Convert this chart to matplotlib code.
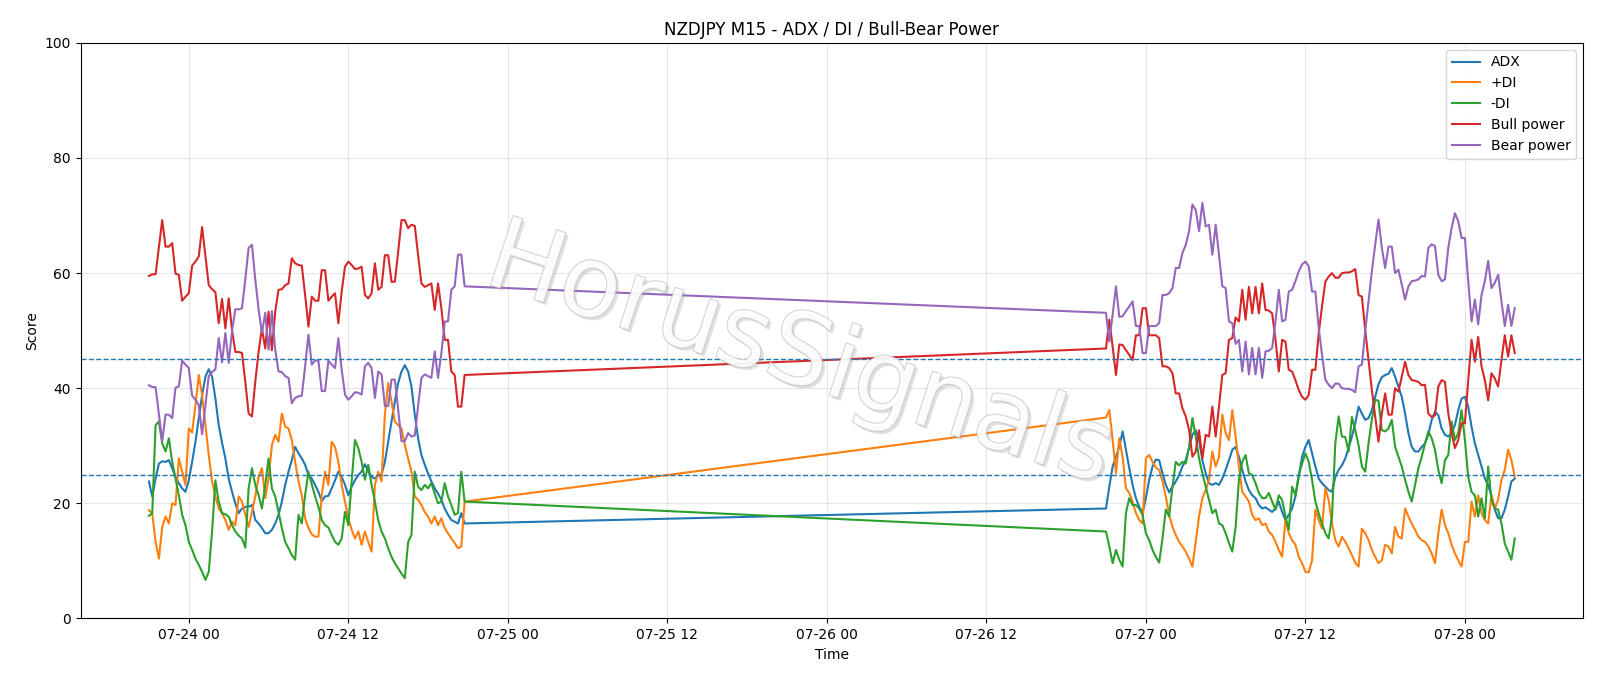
import pandas as pd
import matplotlib
matplotlib.use("Agg")
import matplotlib.pyplot as plt
import matplotlib.dates as mdates
import matplotlib.patheffects as pe

# two trading sessions (weekend gap between them), 15 minute bars
seg1_start = "2026-07-23 21:00"
seg2_start = "2026-07-26 21:00"

adx_1 = [23.8, 21.2, 24.3, 26.9, 27.3, 27.2, 27.5, 26.1, 24.6, 23.5, 22.6, 22.0, 24.0, 27.2, 30.7, 34.8,
         38.8, 42.0, 43.3, 42.0, 38.2, 33.6, 30.5, 27.8, 24.3, 22.0, 20.0, 18.3, 19.1, 19.4, 19.4, 19.7,
         17.1, 16.5, 15.7, 14.8, 14.8, 15.4, 16.5, 18.0, 20.3, 23.2, 25.5, 27.5, 29.8, 28.7, 27.8, 26.7,
         24.9, 24.3, 23.2, 22.0, 20.4, 21.2, 21.3, 22.6, 24.0, 25.5, 24.6, 23.2, 21.4, 22.9, 24.0, 24.9,
         25.5, 26.8, 25.5, 24.6, 24.3, 24.9, 25.0, 27.2, 30.7, 34.2, 37.7, 40.9, 42.9, 44.0, 42.9, 40.3,
         35.4, 31.3, 28.4, 26.7, 25.2, 23.8, 22.6, 21.7, 20.6, 19.1, 18.0, 17.1, 16.8, 16.5, 18.3, 16.5]
pdi_1 = [18.8, 18.3, 13.3, 10.4, 15.9, 17.7, 16.5, 20.0, 19.7, 27.8, 25.5, 23.2, 33.0, 32.3, 37.1, 42.3,
         38.8, 33.6, 28.4, 23.8, 21.2, 19.1, 18.3, 17.1, 15.4, 16.8, 16.2, 21.2, 20.3, 18.0, 15.9, 18.5,
         21.2, 24.6, 26.1, 20.9, 24.3, 30.1, 31.9, 30.7, 35.6, 33.3, 33.0, 31.0, 27.2, 23.8, 21.4, 17.4,
         15.7, 14.6, 14.2, 14.2, 21.4, 25.5, 23.2, 30.7, 29.8, 27.2, 23.2, 20.3, 17.4, 15.4, 13.9, 15.1,
         12.8, 15.1, 13.3, 11.6, 23.2, 25.5, 23.8, 35.4, 40.9, 37.7, 34.2, 33.6, 33.0, 30.1, 27.8, 25.5,
         21.2, 20.6, 19.7, 18.5, 17.7, 16.5, 17.7, 16.2, 17.4, 15.7, 14.8, 13.9, 13.1, 12.2, 12.5, 20.3]
mdi_1 = [17.8, 18.3, 33.6, 34.2, 30.4, 29.0, 31.3, 27.2, 24.3, 21.4, 18.0, 16.2, 13.3, 11.9, 10.4, 9.3,
         8.1, 6.7, 8.1, 15.1, 24.0, 20.3, 18.3, 18.1, 17.7, 16.2, 15.1, 14.4, 13.9, 12.3, 22.6, 26.1,
         23.2, 21.4, 19.1, 23.2, 27.8, 22.6, 21.2, 18.5, 15.7, 13.3, 12.2, 11.0, 10.2, 18.0, 16.5, 21.4,
         25.5, 23.3, 21.2, 19.4, 17.1, 16.2, 15.8, 14.5, 13.3, 12.8, 13.9, 18.5, 16.2, 23.8, 31.0, 29.6,
         27.2, 24.1, 26.7, 23.2, 20.3, 17.1, 15.1, 13.9, 12.2, 10.7, 9.6, 8.7, 7.8, 7.0, 13.3, 14.5,
         25.5, 22.9, 22.3, 23.2, 22.6, 23.5, 21.7, 20.0, 20.3, 23.5, 21.2, 19.7, 18.0, 18.3, 25.5, 20.3]
bull_1 = [59.5, 59.8, 59.8, 64.5, 69.2, 64.6, 64.6, 65.2, 59.9, 59.7, 55.2, 55.9, 56.5, 61.3, 62.0, 62.9,
          68.0, 63.0, 57.9, 57.2, 56.7, 51.3, 55.5, 50.4, 55.6, 50.1, 46.3, 46.3, 46.1, 41.1, 35.6, 35.1,
          41.1, 46.3, 50.4, 46.9, 53.3, 46.6, 53.3, 57.1, 57.2, 57.9, 58.2, 62.6, 61.7, 61.4, 61.3, 56.2,
          50.7, 55.9, 55.2, 55.2, 60.5, 60.5, 55.2, 55.9, 56.5, 51.3, 56.8, 61.1, 62.0, 61.4, 60.7, 60.8,
          61.1, 56.2, 55.6, 56.5, 61.7, 57.1, 57.6, 63.1, 63.1, 58.5, 58.5, 63.7, 69.2, 69.2, 67.8, 68.4,
          68.2, 63.1, 58.2, 57.6, 57.9, 58.2, 53.6, 58.2, 53.9, 48.4, 48.4, 42.9, 42.3, 36.8, 36.8, 42.3]
bear_1 = [40.5, 40.2, 40.2, 35.5, 30.8, 35.4, 35.4, 34.8, 40.1, 40.3, 44.8, 44.1, 43.5, 38.7, 38.0, 37.1,
          32.0, 37.0, 42.1, 42.8, 43.3, 48.7, 44.5, 49.6, 44.4, 49.9, 53.7, 53.7, 53.9, 58.9, 64.4, 64.9,
          58.9, 53.7, 49.6, 53.1, 46.7, 53.4, 46.7, 42.9, 42.8, 42.1, 41.8, 37.4, 38.3, 38.6, 38.7, 43.8,
          49.3, 44.1, 44.8, 44.8, 39.5, 39.5, 44.8, 44.1, 43.5, 48.7, 43.2, 38.9, 38.0, 38.6, 39.3, 39.2,
          38.9, 43.8, 44.4, 43.5, 38.3, 42.9, 42.4, 36.9, 36.9, 41.5, 41.5, 36.3, 30.8, 30.8, 32.2, 31.6,
          31.8, 36.9, 41.8, 42.4, 42.1, 41.8, 46.4, 41.8, 46.1, 51.6, 51.6, 57.1, 57.7, 63.2, 63.2, 57.7]

adx_2 = [19.1, 22.9, 26.4, 28.1, 29.8, 32.5, 29.3, 26.1, 23.2, 20.9, 19.4, 18.3, 20.9, 24.1, 26.4, 27.6,
         27.5, 25.2, 23.2, 21.9, 22.9, 23.8, 24.9, 26.4, 27.5, 29.6, 31.9, 32.7, 31.0, 27.5, 25.2, 23.5,
         23.2, 23.5, 23.2, 24.3, 25.8, 27.5, 29.3, 29.8, 28.1, 25.8, 23.8, 22.3, 21.4, 20.9, 19.7, 19.1,
         19.3, 18.9, 18.5, 19.1, 20.3, 18.5, 17.1, 18.0, 19.1, 21.2, 24.6, 28.1, 29.8, 31.0, 28.7, 26.4,
         24.3, 23.5, 22.9, 22.3, 22.0, 24.6, 25.8, 26.6, 27.8, 29.6, 31.6, 33.9, 36.8, 35.6, 34.5, 34.8,
         36.2, 38.5, 40.7, 41.9, 42.3, 42.5, 43.5, 42.0, 40.3, 38.5, 35.6, 32.2, 29.8, 29.0, 29.0, 29.8,
         30.4, 32.0, 34.5, 35.9, 35.3, 33.0, 31.9, 31.6, 32.2, 33.6, 36.2, 38.2, 38.5, 36.8, 33.3, 30.4,
         28.4, 26.4, 24.3, 23.2, 21.2, 18.9, 17.4, 17.4, 18.9, 21.2, 23.8, 24.3]
pdi_2 = [34.9, 36.2, 31.0, 25.2, 31.3, 28.1, 22.6, 21.8, 20.3, 18.3, 17.1, 16.5, 27.8, 28.4, 27.2, 26.2,
         25.8, 23.8, 21.2, 18.0, 15.9, 14.5, 13.3, 12.5, 11.6, 10.4, 9.0, 13.3, 17.7, 20.9, 22.3, 24.1,
         29.0, 26.4, 28.1, 35.4, 32.2, 31.0, 36.2, 31.6, 26.4, 22.0, 21.2, 20.3, 18.0, 17.1, 17.4, 16.2,
         16.5, 15.1, 14.5, 13.3, 11.9, 10.7, 17.1, 14.8, 13.6, 12.8, 10.7, 9.6, 8.1, 8.0, 10.1, 18.9,
         17.1, 15.6, 22.6, 20.6, 16.5, 13.6, 12.5, 14.2, 13.3, 12.2, 11.0, 9.7, 9.0, 15.6, 14.8, 13.6,
         11.9, 10.7, 9.6, 10.1, 12.8, 12.5, 11.3, 15.9, 14.2, 13.9, 19.1, 17.7, 16.5, 15.4, 14.2, 13.6,
         13.3, 12.5, 11.3, 9.6, 14.8, 18.9, 16.2, 14.8, 12.8, 11.3, 10.1, 9.0, 13.3, 13.3, 20.3, 17.7,
         21.4, 18.3, 17.1, 16.5, 21.4, 19.1, 20.6, 24.1, 25.8, 29.3, 27.5, 24.6]
mdi_2 = [15.1, 12.5, 9.6, 11.9, 10.2, 9.0, 18.3, 20.9, 19.7, 19.7, 19.1, 18.0, 14.8, 13.6, 11.9, 10.7,
         9.7, 13.9, 18.9, 17.7, 22.9, 27.2, 26.6, 27.2, 26.9, 29.8, 34.8, 31.6, 27.8, 25.2, 22.9, 20.6,
         18.3, 18.9, 16.5, 16.2, 14.8, 13.1, 11.6, 15.9, 24.1, 27.2, 28.4, 25.2, 24.9, 23.5, 21.8, 20.9,
         20.9, 21.8, 20.3, 18.9, 21.4, 20.6, 17.7, 15.4, 22.9, 21.4, 24.9, 26.9, 28.7, 27.2, 24.1, 20.3,
         18.3, 16.5, 14.8, 13.9, 17.7, 30.4, 35.1, 31.6, 31.5, 29.0, 35.0, 32.7, 30.1, 26.4, 25.5, 30.4,
         34.5, 38.0, 37.8, 32.7, 32.5, 33.0, 34.5, 29.8, 28.1, 26.4, 24.1, 22.0, 20.3, 23.2, 26.1, 28.1,
         30.4, 32.5, 31.3, 29.3, 25.8, 23.5, 27.5, 28.4, 34.2, 31.0, 32.2, 36.2, 31.0, 24.6, 22.0, 21.4,
         17.7, 20.9, 17.4, 26.4, 20.6, 19.1, 18.9, 16.5, 13.0, 11.6, 10.2, 13.9]
bull_2 = [46.9, 51.9, 47.2, 42.3, 47.6, 47.5, 46.6, 45.8, 44.9, 49.2, 49.2, 53.9, 53.9, 49.2, 49.2, 49.2,
          48.7, 43.8, 43.8, 43.5, 42.6, 39.1, 39.1, 36.5, 35.1, 32.7, 28.1, 29.0, 32.7, 27.8, 31.9, 31.6,
          36.8, 31.6, 36.8, 42.3, 42.6, 48.4, 48.7, 52.3, 51.6, 57.1, 51.9, 57.6, 53.0, 57.6, 53.0, 58.2,
          53.6, 53.5, 53.0, 48.4, 42.9, 48.4, 48.1, 43.2, 42.9, 41.4, 39.7, 38.5, 38.0, 38.8, 43.2, 43.2,
          49.5, 54.2, 58.5, 59.4, 60.0, 59.2, 59.2, 60.0, 60.1, 60.1, 60.3, 60.7, 56.2, 55.9, 50.1, 44.9,
          39.7, 35.1, 30.7, 35.6, 39.1, 35.4, 35.4, 40.0, 39.4, 42.0, 44.6, 42.3, 41.4, 41.3, 41.1, 40.5,
          40.6, 35.6, 35.0, 35.3, 40.3, 41.4, 41.1, 35.6, 32.2, 29.6, 31.0, 33.9, 33.9, 41.4, 48.4, 44.6,
          48.9, 43.8, 41.4, 37.9, 42.6, 41.7, 40.3, 44.9, 49.2, 45.5, 49.2, 46.1]
bear_2 = [53.1, 48.1, 52.8, 57.7, 52.4, 52.5, 53.4, 54.2, 55.1, 50.8, 50.8, 46.1, 46.1, 50.8, 50.8, 50.8,
          51.3, 56.2, 56.2, 56.5, 57.4, 60.9, 60.9, 63.5, 64.9, 67.3, 71.9, 71.0, 67.3, 72.2, 68.1, 68.4,
          63.2, 68.4, 63.2, 57.7, 57.4, 51.6, 51.3, 47.7, 48.4, 42.9, 48.1, 42.4, 47.0, 42.4, 47.0, 41.8,
          46.4, 46.5, 47.0, 51.6, 57.1, 51.6, 51.9, 56.8, 57.1, 58.6, 60.3, 61.5, 62.0, 61.2, 56.8, 56.8,
          50.5, 45.8, 41.5, 40.6, 40.0, 40.8, 40.8, 40.0, 39.9, 39.9, 39.7, 39.3, 43.8, 44.1, 49.9, 55.1,
          60.3, 64.9, 69.3, 64.4, 60.9, 64.6, 64.6, 60.0, 60.6, 58.0, 55.4, 57.7, 58.6, 58.7, 58.9, 59.5,
          59.4, 64.4, 65.0, 64.7, 59.7, 58.6, 58.9, 64.4, 67.8, 70.4, 69.0, 66.1, 66.1, 58.6, 51.6, 55.4,
          51.1, 56.2, 58.6, 62.1, 57.4, 58.3, 59.7, 55.1, 50.8, 54.5, 50.8, 53.9]

levels = [25, 45]

t = pd.date_range(seg1_start, periods=len(adx_1), freq="15min").append(
    pd.date_range(seg2_start, periods=len(adx_2), freq="15min"))

fig, ax = plt.subplots(figsize=(16, 6.86), dpi=100)
fig.subplots_adjust(left=0.0504, right=0.9894, top=0.9375, bottom=0.0985)

ax.plot(t, adx_1 + adx_2, label="ADX")
ax.plot(t, pdi_1 + pdi_2, label="+DI")
ax.plot(t, mdi_1 + mdi_2, label="-DI")
ax.plot(t, bull_1 + bull_2, label="Bull power")
ax.plot(t, bear_1 + bear_2, label="Bear power")
for lv in levels:
    ax.axhline(lv, color="tab:blue", linestyle="--", linewidth=1)

ax.set_ylim(0, 100)
ax.xaxis.set_major_locator(mdates.HourLocator(byhour=[0, 12]))
ax.xaxis.set_major_formatter(mdates.DateFormatter("%m-%d %H"))
ax.grid(True, alpha=0.3)
ax.set_title("NZDJPY M15 - ADX / DI / Bull-Bear Power")
ax.set_xlabel("Time")
ax.set_ylabel("Score")
ax.legend(loc="upper right")

# watermark
fig.text(0.5, 0.48, "HorusSignals", ha="center", va="center", rotation=-18,
         fontsize=72, color="white", alpha=0.55, zorder=10,
         path_effects=[pe.withSimplePatchShadow(offset=(2, -2), shadow_rgbFace="#9a9a9a", alpha=0.3),
                       pe.Stroke(linewidth=1.0, foreground="#a8a8a8"), pe.Normal()])

fig.savefig("out.png", dpi=100)
